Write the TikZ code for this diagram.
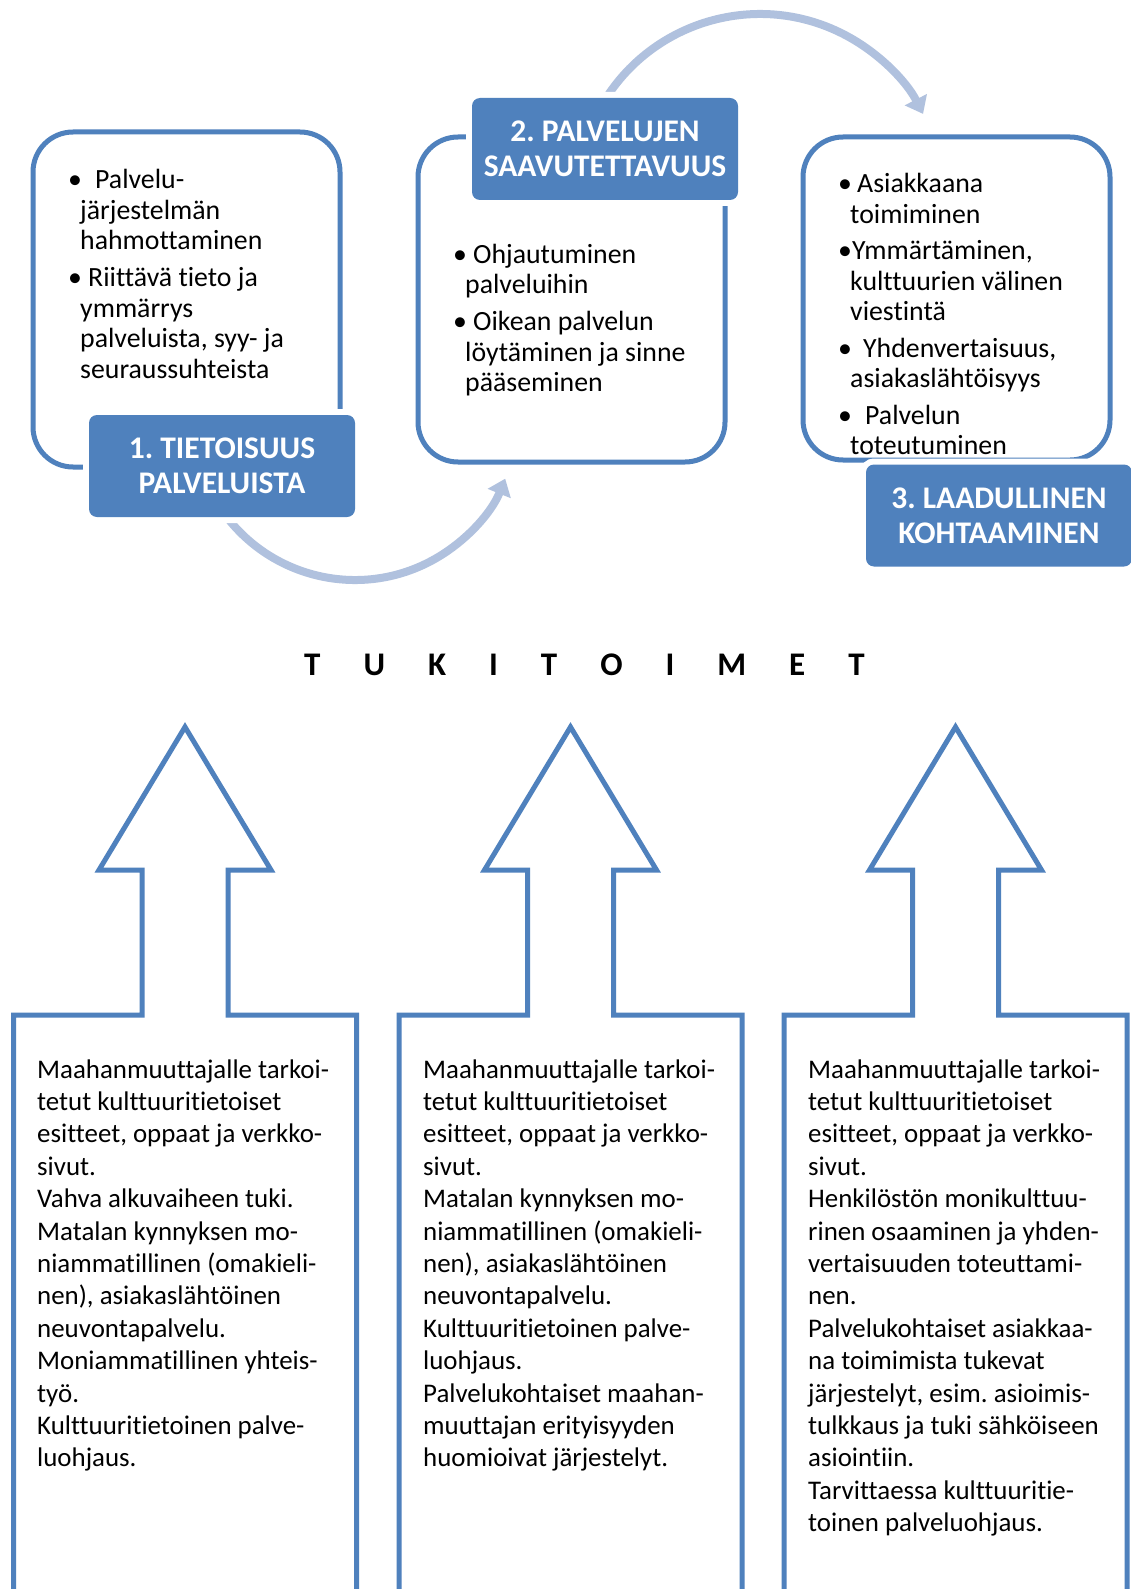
\documentclass[tikz,border=0pt]{standalone}
\usepackage{fontspec}
\setmainfont{Carlito}[Ligatures={NoCommon,NoRare,NoContextual}]
\usetikzlibrary{arrows.meta}
\definecolor{accent}{HTML}{4F81BD}
\definecolor{flowarc}{HTML}{B0C1DE}
\frenchspacing
% letter gap for the spaced heading
\newcommand\lgap{\hspace{43pt}}
% bullet in a box of given width
\newcommand\bl[1]{\makebox[#1][l]{•}}
\begin{document}
\begin{tikzpicture}[x=1pt,y=-1pt,
  frame/.style={draw=accent,line width=5pt,rounded corners=40pt,inner sep=0pt},
  titlebox/.style={fill=accent,rounded corners=8pt,preaction={draw=white,line width=12pt},
    text=white,font=\fontsize{31.5pt}{35pt}\selectfont\bfseries,align=center,inner sep=0pt,
    minimum width=266pt,minimum height=102pt},
  toptext/.style={anchor=base west,inner sep=0pt,font=\fontsize{27.8pt}{30.5pt}\selectfont},
  lowtext/.style={anchor=base west,inner sep=0pt,font=\fontsize{26.9pt}{32.4pt}\selectfont},
  flow/.style={draw=flowarc,line width=8pt,-{Triangle[width=24pt,length=16pt]}},
  upblock/.style={draw=accent,line width=5pt}
]
\useasboundingbox (0,0) rectangle (1130,1589);
\fill[white] (0,0) rectangle (1130,1589);

% curved flow arrows between the stages
\coordinate (hub1) at (355,418);
\coordinate (hub2) at (760,197);
\draw[flow] (hub1) ++(150:162) arc[start angle=150,end angle=22,radius=162];
\draw[flow] (hub2) ++(210:183) arc[start angle=210,end angle=333,radius=183];

% stage frames
\node[frame,minimum width=307pt,minimum height=335pt] (box1) at (186.5,299.5) {};
\node[frame,minimum width=307pt,minimum height=325pt] (box2) at (571.5,299.5) {};
\node[frame,minimum width=307pt,minimum height=323pt] (box3) at (956.5,298.5) {};

% stage contents
\node[toptext] (txt1) at (68,189) {\parbox[t]{270pt}{\raggedright
  \bl{27pt}Palvelu-\\
  \hspace*{12pt}järjestelmän\\
  \hspace*{12pt}hahmottaminen\\[6.5pt]
  \bl{20pt}Riittävä tieto ja\\
  \hspace*{12pt}ymmärrys\\
  \hspace*{12pt}palveluista, syy- ja\\
  \hspace*{12pt}seuraussuhteista}};

\node[toptext] (txt2) at (453,263) {\parbox[t]{270pt}{\raggedright
  \bl{20pt}Ohjautuminen\\
  \hspace*{12pt}palveluihin\\[6.5pt]
  \bl{20pt}Oikean palvelun\\
  \hspace*{12pt}löytäminen ja sinne\\
  \hspace*{12pt}pääseminen}};

\node[toptext] (txt3) at (838,193) {\parbox[t]{280pt}{\raggedright
  \bl{19pt}Asiakkaana\\
  \hspace*{12pt}toimiminen\\[6pt]
  \bl{14pt}Ymmärtäminen,\\
  \hspace*{12pt}kulttuurien välinen\\
  \hspace*{12pt}viestintä\\[6pt]
  \bl{25pt}Yhdenvertaisuus,\\
  \hspace*{12pt}asiakaslähtöisyys\\[6pt]
  \bl{27pt}Palvelun\\
  \hspace*{12pt}toteutuminen}};

% stage titles
\node[titlebox] (title1) at (222,466) {1. TIETOISUUS\\PALVELUISTA};
\node[titlebox] (title2) at (605,149) {2. PALVELUJEN\\SAAVUTETTAVUUS};
\node[titlebox] (title3) at (999,515.5) {3. LAADULLINEN\\KOHTAAMINEN};

% spaced heading
\node[anchor=base west,inner sep=0pt,font=\fontsize{33pt}{36pt}\selectfont\bfseries] (tuki) at (304,675)
  {T\lgap U\lgap K\lgap I\lgap T\lgap O\lgap I\lgap M\lgap E\lgap T};

% support pillars (block arrows pointing up)
\begin{scope}
\clip (0,0) rectangle (1130,1589);
\foreach \c in {185,570.5,955.5} {
  \draw[upblock] (\c-171.5,1610) -- (\c-171.5,1015) -- (\c-43,1015) -- (\c-43,870)
    -- (\c-86,870) -- (\c,727) -- (\c+86,870) -- (\c+43,870) -- (\c+43,1015)
    -- (\c+171.5,1015) -- (\c+171.5,1610);
}
\end{scope}

\node[lowtext] (low1) at (37,1078) {\parbox[t]{320pt}{\raggedright
  Maahanmuuttajalle tarkoi-\\
  tetut kulttuuritietoiset\\
  esitteet, oppaat ja verkko-\\
  sivut.\\
  Vahva alkuvaiheen tuki.\\
  Matalan kynnyksen mo-\\
  niammatillinen (omakieli-\\
  nen), asiakaslähtöinen\\
  neuvontapalvelu.\\
  Moniammatillinen yhteis-\\
  työ.\\
  Kulttuuritietoinen palve-\\
  luohjaus.}};

\node[lowtext] (low2) at (423,1078) {\parbox[t]{320pt}{\raggedright
  Maahanmuuttajalle tarkoi-\\
  tetut kulttuuritietoiset\\
  esitteet, oppaat ja verkko-\\
  sivut.\\
  Matalan kynnyksen mo-\\
  niammatillinen (omakieli-\\
  nen), asiakaslähtöinen\\
  neuvontapalvelu.\\
  Kulttuuritietoinen palve-\\
  luohjaus.\\
  Palvelukohtaiset maahan-\\
  muuttajan erityisyyden\\
  huomioivat järjestelyt.}};

\node[lowtext] (low3) at (808,1078) {\parbox[t]{320pt}{\raggedright
  Maahanmuuttajalle tarkoi-\\
  tetut kulttuuritietoiset\\
  esitteet, oppaat ja verkko-\\
  sivut.\\
  Henkilöstön monikulttuu-\\
  rinen osaaminen ja yhden-\\
  vertaisuuden toteuttami-\\
  nen.\\
  Palvelukohtaiset asiakkaa-\\
  na toimimista tukevat\\
  järjestelyt, esim. asioimis-\\
  tulkkaus ja tuki sähköiseen\\
  asiointiin.\\
  Tarvittaessa kulttuuritie-\\
  toinen palveluohjaus.}};
\end{tikzpicture}
\end{document}
